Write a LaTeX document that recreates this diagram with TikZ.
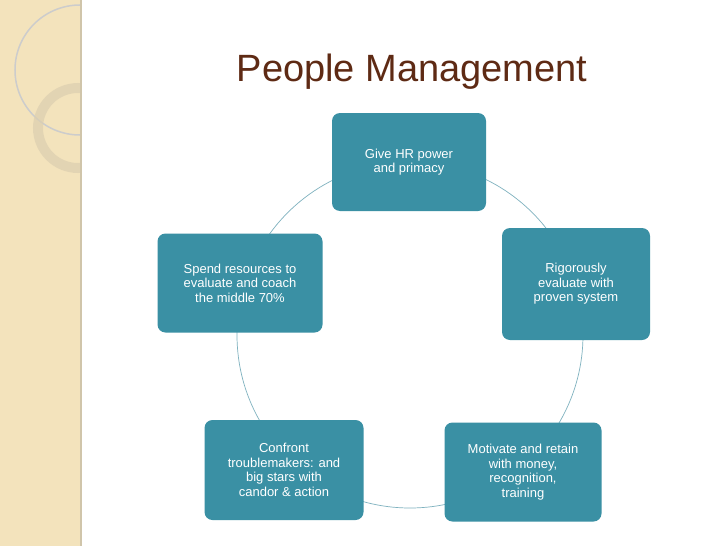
\documentclass[tikz,border=0pt]{standalone}
\usepackage{fontspec}
\setmainfont{Liberation Sans}
\definecolor{boxc}{HTML}{3A90A4}
\definecolor{side}{HTML}{F3E3BC}
\definecolor{titlec}{HTML}{5E2A14}
\definecolor{linec}{HTML}{7FB2BF}
\begin{document}
\begin{tikzpicture}[x=1pt,y=-1pt,
  stepbox/.style={fill=boxc,rounded corners=8pt,text=white,align=center,font=\fontsize{13}{14.5}\selectfont,inner sep=0pt}]
\useasboundingbox (0,0) rectangle (728,546);
\fill[white] (0,0) rectangle (728,546);
\fill[side] (0,0) rectangle (80,546);
\fill[white!50!side] (0,0) -- (64,0) arc[start angle=0,end angle=-90,radius=64] -- cycle;
\begin{scope}
\clip (0,0) rectangle (80,546);
\draw[line width=1.5pt,white!60!gray] (80,70) circle[radius=65];
\draw[line width=10pt,side!80!gray,opacity=0.7] (78,128) circle[radius=40];
\end{scope}
\draw[line width=1.5pt,side!70!gray] (81,0) -- (81,546);
\node[font=\fontsize{38}{40}\selectfont,text=titlec] (title) at (412,72) {People Management};
\draw[linec,line width=0.7pt] (410,335) circle[radius=173];
\node[stepbox,minimum width=154pt,minimum height=98pt] (a) at (409,162) {Give HR power\\and primacy};
\node[stepbox,minimum width=148pt,minimum height=112pt] (b) at (576,284) {Rigorously\\evaluate with\\proven system};
\node[stepbox,minimum width=157pt,minimum height=99pt] (c) at (523,472) {Motivate and retain\\with money,\\recognition,\\training};
\node[stepbox,minimum width=159pt,minimum height=100pt] (d) at (284,470) {Confront\\troublemakers: and\\big stars with\\candor \& action};
\node[stepbox,minimum width=165pt,minimum height=99pt] (e) at (240,283) {Spend resources to\\evaluate and coach\\the middle 70\%};
\end{tikzpicture}
\end{document}
